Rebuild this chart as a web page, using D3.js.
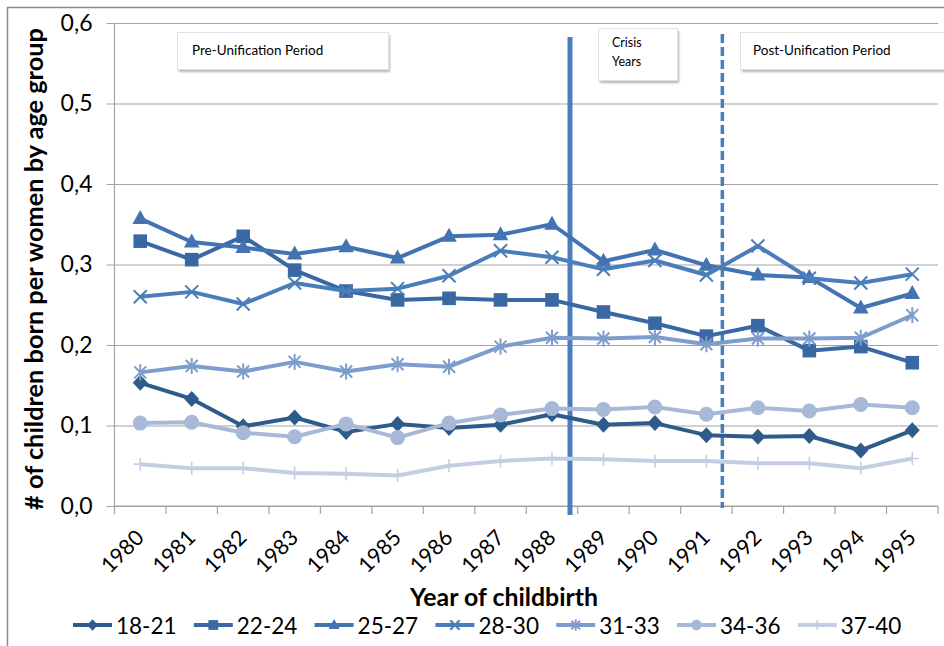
<!DOCTYPE html>
<html>
<head>
<meta charset="utf-8">
<script src="https://cdn.jsdelivr.net/npm/d3@7"></script>
<style>
  body { margin: 0; background: #fff; }
  svg { display: block; }
  text { font-family: Lato, "Open Sans", "Noto Sans", sans-serif; fill: #000; }
</style>
</head>
<body>
<svg id="chart" width="944" height="646"></svg>
<script>
// Years of childbirth (x categories)
const years = [1980, 1981, 1982, 1983, 1984, 1985, 1986, 1987,
               1988, 1989, 1990, 1991, 1992, 1993, 1994, 1995];

// Mother's age groups (one series each)
const ageGroups = ["18-21", "22-24", "25-27", "28-30", "31-33", "34-36", "37-40"];

// Number of children born per woman, by age group
const age18_21 = [0.153, 0.133, 0.099, 0.110, 0.092, 0.102, 0.097, 0.101,
                  0.114, 0.101, 0.103, 0.088, 0.086, 0.087, 0.069, 0.094];
const age22_24 = [0.329, 0.306, 0.335, 0.293, 0.267, 0.256, 0.258, 0.256,
                  0.256, 0.241, 0.227, 0.211, 0.224, 0.193, 0.198, 0.178];
const age25_27 = [0.357, 0.328, 0.321, 0.313, 0.322, 0.308, 0.335, 0.337,
                  0.350, 0.304, 0.318, 0.299, 0.287, 0.284, 0.246, 0.264];
const age28_30 = [0.260, 0.266, 0.251, 0.277, 0.267, 0.270, 0.286, 0.317,
                  0.309, 0.294, 0.305, 0.287, 0.323, 0.283, 0.277, 0.288];
const age31_33 = [0.166, 0.174, 0.167, 0.179, 0.167, 0.176, 0.173, 0.198,
                  0.209, 0.208, 0.210, 0.201, 0.208, 0.208, 0.209, 0.237];
const age34_36 = [0.103, 0.104, 0.091, 0.086, 0.102, 0.085, 0.103, 0.113,
                  0.121, 0.120, 0.123, 0.114, 0.122, 0.118, 0.126, 0.122];
const age37_40 = [0.052, 0.047, 0.047, 0.041, 0.040, 0.038, 0.050, 0.056,
                  0.059, 0.058, 0.056, 0.056, 0.053, 0.053, 0.047, 0.059];

const seriesValues = [age18_21, age22_24, age25_27, age28_30, age31_33, age34_36, age37_40];
const seriesColors = ["#2f5b8c", "#3a68a2", "#4373b2", "#4a7ebb", "#7e9dcc", "#a8b9d8", "#c3cee3"];
const seriesMarkers = ["diamond", "square", "triangle", "times", "asterisk", "circle", "plus"];

// Value axis ticks
const yTicks = [0, 0.1, 0.2, 0.3, 0.4, 0.5, 0.6];

// Period boundaries, as positions along the category axis (in category units)
const crisisStart = 8.85;
const unification = 11.81;

const svg = d3.select("#chart");

const plot = { left: 114.5, right: 938, top: 23, bottom: 506 };

const x = d3.scaleBand().domain(years).range([plot.left, plot.right]).padding(0);
const xPos = d3.scaleLinear().domain([0, years.length]).range([plot.left, plot.right]);
const y = d3.scaleLinear().domain([0, 0.6]).range([plot.bottom, plot.top]);
const cx = yr => x(yr) + x.bandwidth() / 2;

const fmt = d3.formatLocale({ decimal: ",", thousands: ".", grouping: [3], currency: ["", "€"] }).format(".1f");

// Outer chart frame
svg.append("rect")
  .attr("x", 7.5).attr("y", 7.5).attr("width", 1000).attr("height", 1000)
  .attr("fill", "none").attr("stroke", "#8a8a8a").attr("stroke-width", 1.5);

// Shadow filter for the period labels
const defs = svg.append("defs");
defs.append("filter").attr("id", "soft")
  .attr("x", "-10%").attr("y", "-10%").attr("width", "130%").attr("height", "140%")
  .append("feGaussianBlur").attr("stdDeviation", 1);

// Horizontal gridlines + value axis
const yAxis = d3.axisLeft(y).tickValues(yTicks).tickFormat(fmt)
  .tickSize(-(plot.right - plot.left)).tickPadding(22);
const yg = svg.append("g").attr("transform", `translate(${plot.left},0)`).call(yAxis);
yg.select(".domain").remove();
yg.selectAll(".tick line").attr("stroke", "#a3a3a3").attr("stroke-width", 1);
yg.selectAll(".tick text").style("font-size", "23px").attr("fill", "#1a1a1a");
// small outward tick stubs
yg.selectAll(".tick").append("line")
  .attr("x1", -8).attr("x2", 0).attr("stroke", "#a3a3a3");

// Value axis line
svg.append("line")
  .attr("x1", plot.left).attr("x2", plot.left)
  .attr("y1", plot.top).attr("y2", plot.bottom)
  .attr("stroke", "#a3a3a3").attr("stroke-width", 1.2);

// Category axis line and boundary ticks
svg.append("line")
  .attr("x1", plot.left).attr("x2", plot.right)
  .attr("y1", plot.bottom).attr("y2", plot.bottom)
  .attr("stroke", "#a3a3a3").attr("stroke-width", 1.2);
svg.append("g").selectAll("line")
  .data(d3.range(years.length + 1))
  .join("line")
  .attr("x1", i => xPos(i)).attr("x2", i => xPos(i))
  .attr("y1", plot.bottom).attr("y2", plot.bottom + 8)
  .attr("stroke", "#a3a3a3").attr("stroke-width", 1.2);

// Category labels, rotated
svg.append("g").selectAll("text")
  .data(years)
  .join("text")
  .attr("transform", d => `translate(${cx(d) + 5},${539}) rotate(-45)`)
  .attr("text-anchor", "end")
  .style("font-size", "21.5px")
  .attr("fill", "#1a1a1a")
  .text(d => d);

// Axis titles
const xTitle = svg.append("text")
  .attr("x", 504).attr("y", 606)
  .attr("text-anchor", "middle")
  .style("font-size", "21px").style("font-weight", "bold")
  .text("Year of childbirth");
const yTitle = svg.append("text")
  .attr("transform", "translate(43,269) rotate(-90)")
  .attr("text-anchor", "middle")
  .style("font-size", "21px").style("font-weight", "bold")
  .text("# of children born per women by age group");
// fit titles to their intended lengths
[[xTitle, 188], [yTitle, 482]].forEach(([t, w]) => {
  const len = t.node().getComputedTextLength();
  t.style("font-size", (21 * w / len).toFixed(2) + "px");
});

// Period boundaries
svg.append("line")
  .attr("x1", xPos(crisisStart)).attr("x2", xPos(crisisStart))
  .attr("y1", 37).attr("y2", 515)
  .attr("stroke", "#4a7ebb").attr("stroke-width", 5);
svg.append("line")
  .attr("x1", xPos(unification)).attr("x2", xPos(unification))
  .attr("y1", 34).attr("y2", 508)
  .attr("stroke", "#4a7ebb").attr("stroke-width", 3.5)
  .attr("stroke-dasharray", "9,4");

// Period label boxes
const boxes = [
  { x: 177, y: 32, w: 211, h: 37, lines: ["Pre-Unification Period"], size: 13.5, tx: 192, ty: [55] },
  { x: 598, y: 28, w: 79, h: 52, lines: ["Crisis", "Years"], size: 12.5, tx: 612, ty: [47, 66] },
  { x: 740, y: 32, w: 220, h: 37, lines: ["Post-Unification Period"], size: 13.5, tx: 753, ty: [55] }
];
boxes.forEach(b => {
  const g = svg.append("g");
  g.append("rect").attr("x", b.x + 2).attr("y", b.y + 3).attr("width", b.w).attr("height", b.h)
    .attr("fill", "#b5b5b5").attr("filter", "url(#soft)");
  g.append("rect").attr("x", b.x + 0.5).attr("y", b.y + 0.5).attr("width", b.w).attr("height", b.h)
    .attr("fill", "#fff").attr("stroke", "#e2e2e2").attr("stroke-width", 1);
  b.lines.forEach((ln, i) => {
    g.append("text").attr("x", b.tx).attr("y", b.ty[i])
      .style("font-size", b.size + "px").attr("fill", "#262626").text(ln);
  });
});

// Marker shapes
function markerPath(kind, s) {
  switch (kind) {
    case "diamond":  return `M0,${-8 * s}L${7.5 * s},0L0,${8 * s}L${-7.5 * s},0Z`;
    case "square":   return `M${-6.8 * s},${-6.8 * s}h${13.6 * s}v${13.6 * s}h${-13.6 * s}Z`;
    case "triangle": return `M0,${-8.5 * s}L${7.8 * s},${5.5 * s}L${-7.8 * s},${5.5 * s}Z`;
    case "times":    return `M${-6.5 * s},${-6.5 * s}L${6.5 * s},${6.5 * s}M${-6.5 * s},${6.5 * s}L${6.5 * s},${-6.5 * s}`;
    case "asterisk": return `M${-6 * s},${-6 * s}L${6 * s},${6 * s}M${-6 * s},${6 * s}L${6 * s},${-6 * s}M0,${-8 * s}L0,${8 * s}`;
    case "plus":     return `M${-6.5 * s},0H${6.5 * s}M0,${-6.5 * s}V${6.5 * s}`;
  }
  return "";
}
function drawMarker(sel, kind, color, s) {
  if (kind === "circle") {
    sel.append("circle").attr("r", 7.5 * s).attr("fill", color);
  } else if (kind === "times" || kind === "asterisk" || kind === "plus") {
    sel.append("path").attr("d", markerPath(kind, s))
      .attr("fill", "none").attr("stroke", color).attr("stroke-width", kind === "plus" ? 1.6 : 2);
  } else {
    sel.append("path").attr("d", markerPath(kind, s)).attr("fill", color);
  }
}

// Series lines and markers
const line = d3.line().x((d, i) => cx(years[i])).y(d => y(d));
seriesValues.forEach((vals, k) => {
  const g = svg.append("g");
  g.append("path").datum(vals)
    .attr("d", line)
    .attr("fill", "none")
    .attr("stroke", seriesColors[k])
    .attr("stroke-width", 4)
    .attr("stroke-linejoin", "round");
  vals.forEach((v, i) => {
    const m = g.append("g").attr("transform", `translate(${cx(years[i])},${y(v)})`);
    drawMarker(m, seriesMarkers[k], seriesColors[k], 1);
  });
});

// Legend
const legend = svg.append("g");
ageGroups.forEach((name, k) => {
  const x0 = 73 + k * 120.8;
  const g = legend.append("g").attr("transform", `translate(${x0},625)`);
  g.append("line").attr("x1", 0).attr("x2", 39).attr("y1", 0).attr("y2", 0)
    .attr("stroke", seriesColors[k]).attr("stroke-width", 4);
  const m = g.append("g").attr("transform", "translate(19.5,0)");
  drawMarker(m, seriesMarkers[k], seriesColors[k], 0.72);
  g.append("text").attr("x", 43).attr("y", 8.5)
    .style("font-size", "22.5px").attr("fill", "#111").text(name);
});
</script>
</body>
</html>
